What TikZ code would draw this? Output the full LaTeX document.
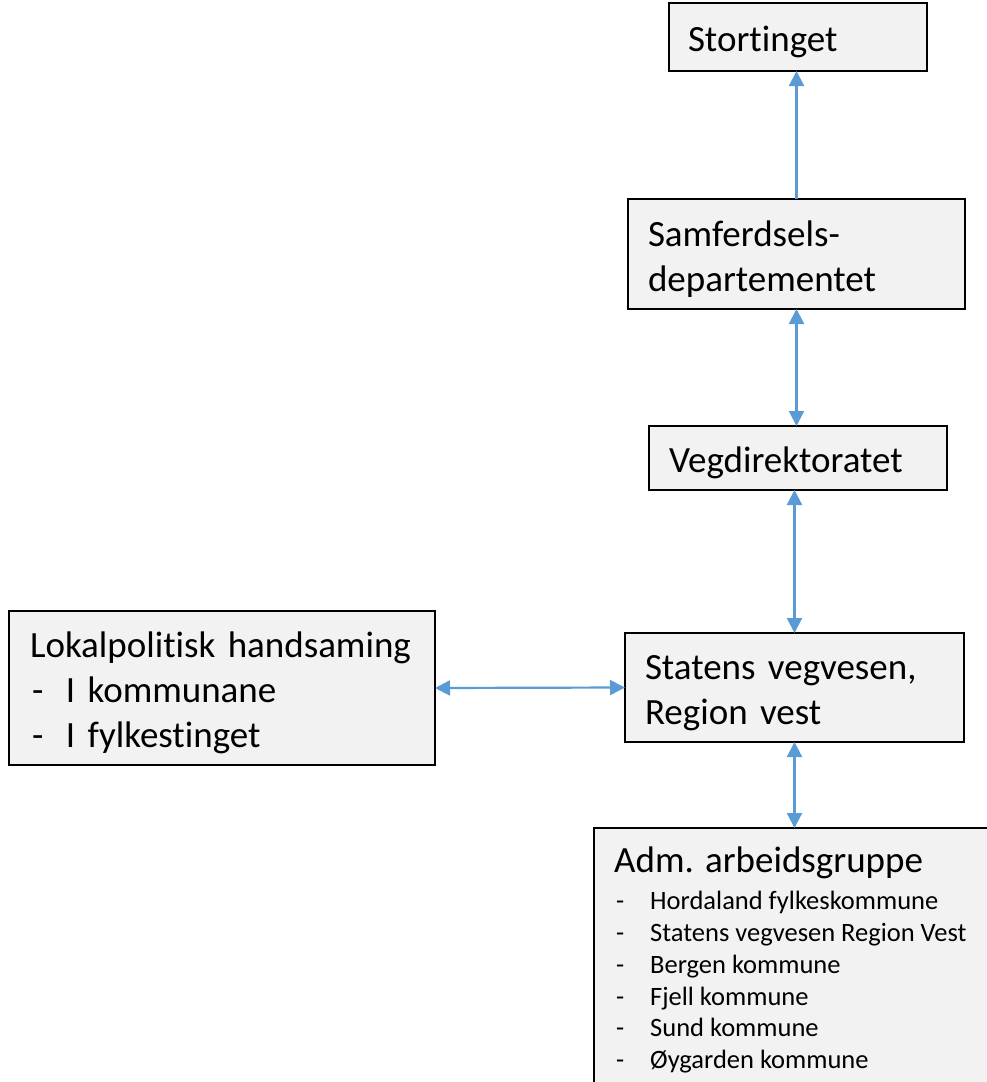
\documentclass[tikz,border=0pt]{standalone}
\usepackage{fontspec}
\setmainfont{Carlito}[Ligatures={NoCommon}]
\usetikzlibrary{arrows.meta}
\definecolor{boxfill}{HTML}{F2F2F2}
\definecolor{arrowblue}{HTML}{5B9BD5}
\newcommand{\topstrut}{\rule{0pt}{36pt}}
\begin{document}
\begin{tikzpicture}[x=1pt,y=-1pt,
  orgbox/.style={draw=black, line width=1.4pt, fill=boxfill, rectangle, anchor=north west,
     align=left, font=\fontsize{37}{45}\selectfont, inner ysep=0pt, outer sep=0pt},
  link/.style={draw=arrowblue, line width=2.2pt, {Triangle[length=15pt,width=15pt]}-{Triangle[length=15pt,width=15pt]}},
  uplink/.style={draw=arrowblue, line width=2.2pt, -{Triangle[length=15pt,width=15pt]}},
  smalltext/.style={font=\fontsize{26.5}{31.8}\selectfont, align=left, anchor=north west, inner sep=0pt}
]
\useasboundingbox (0,0) rectangle (987,1082);
\clip (0,0) rectangle (987,1082);

\node[orgbox, minimum width=258pt, minimum height=68pt, text width=220pt, inner xsep=19pt] (st) at (669,3) {\topstrut Stortinget};
\node[orgbox, minimum width=337pt, minimum height=110pt, text width=297pt, inner xsep=20pt] (sam) at (628,199) {\topstrut Samferdsels-\\departementet};
\node[orgbox, minimum width=298pt, minimum height=64pt, text width=258pt, inner xsep=20pt] (veg) at (649,426) {\topstrut Vegdirektoratet};
\node[orgbox, minimum width=339pt, minimum height=109pt, text width=299pt, inner xsep=20pt] (sv) at (625,633) {\topstrut Statens vegvesen,\\Region vest};
\node[orgbox, minimum width=426pt, minimum height=154pt, text width=384pt, inner xsep=21pt] (lok) at (9,611)
  {\rule{0pt}{35pt}Lokalpolitisk handsaming\\\makebox[36pt][l]{\hspace{2pt}-}I kommunane\\\makebox[36pt][l]{\hspace{2pt}-}I fylkestinget};
\node[orgbox, minimum width=400pt, minimum height=270pt, text width=360pt, inner xsep=20pt] (adm) at (594,828) {};
\node[smalltext] (admtext) at (614,847)
  {{\fontsize{37}{45}\selectfont Adm. arbeidsgruppe}\\[5pt]
   \makebox[36pt][l]{\hspace{2pt}-}Hordaland fylkeskommune\\
   \makebox[36pt][l]{\hspace{2pt}-}Statens vegvesen Region Vest\\
   \makebox[36pt][l]{\hspace{2pt}-}Bergen kommune\\
   \makebox[36pt][l]{\hspace{2pt}-}Fjell kommune\\
   \makebox[36pt][l]{\hspace{2pt}-}Sund kommune\\
   \makebox[36pt][l]{\hspace{2pt}-}Øygarden kommune};

\draw[uplink] (sam.north) -- (sam.north |- st.south);
\draw[link] (sam.south) -- (sam.south |- veg.north);
\draw[link] (sv.north) -- (sv.north |- veg.south);
\draw[link] (lok.east) -- (sv.west);
\draw[link] (sv.south) -- (sv.south |- adm.north);
\end{tikzpicture}
\end{document}
